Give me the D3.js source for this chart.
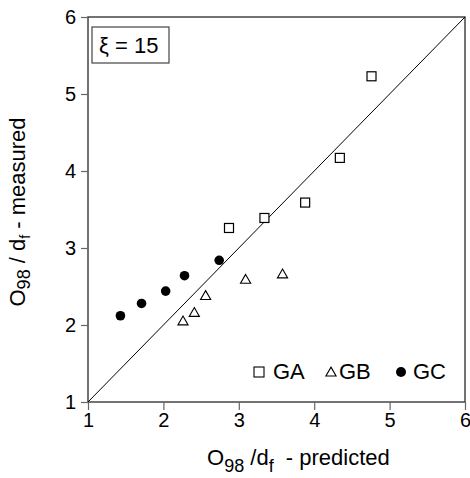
<!DOCTYPE html>
<html>
<head>
<meta charset="utf-8">
<title>O98/df</title>
<script src="https://d3js.org/d3.v7.min.js"></script>
<style>
  body { margin: 0; background: #fff; }
  text { font-family: "Liberation Sans", Arial, sans-serif; fill: #000; }
</style>
</head>
<body>
<div id="chart"></div>
<script>
// values
var gaX = [4.76, 4.34, 3.88, 3.34, 2.87],
    gaY = [5.23, 4.17, 3.59, 3.39, 3.26];
var gbX = [2.26, 2.41, 2.56, 3.09, 3.58],
    gbY = [2.04, 2.15, 2.37, 2.58, 2.65];
var gcX = [1.43, 1.71, 2.03, 2.28, 2.74],
    gcY = [2.12, 2.28, 2.44, 2.64, 2.84];
var ticks = [1, 2, 3, 4, 5, 6];
var diag = [1, 6];

var W = 470, H = 478,
    m = {left: 88, right: 465, top: 17, bottom: 402};

var x = d3.scaleLinear().domain([1, 6]).range([m.left, m.right]),
    y = d3.scaleLinear().domain([1, 6]).range([m.bottom, m.top]);

var svg = d3.select("#chart").append("svg")
    .attr("width", W).attr("height", H);

// frame
svg.append("rect")
    .attr("x", m.left).attr("y", m.top)
    .attr("width", m.right - m.left).attr("height", m.bottom - m.top)
    .attr("fill", "none").attr("stroke", "#444").attr("stroke-width", 1.5);

// axes
var axX = svg.append("g")
    .attr("transform", "translate(0," + m.bottom + ")")
    .call(d3.axisBottom(x).tickValues(ticks).tickFormat(d3.format("d")).tickSize(8).tickPadding(3));
var axY = svg.append("g")
    .attr("transform", "translate(" + m.left + ",0)")
    .call(d3.axisLeft(y).tickValues(ticks).tickFormat(d3.format("d")).tickSize(7).tickPadding(5));
[axX, axY].forEach(function(g) {
  g.select(".domain").remove();
  g.selectAll("line").attr("stroke", "#666").attr("stroke-width", 1.2);
  g.selectAll("text").attr("font-size", 20).attr("fill", "#000")
    .style("font-family", "'Liberation Sans', Arial, sans-serif");
});

// 1:1 line
svg.append("line")
    .attr("x1", x(diag[0])).attr("y1", y(diag[0]))
    .attr("x2", x(diag[1])).attr("y2", y(diag[1]))
    .attr("stroke", "#000").attr("stroke-width", 1);

// GA squares
svg.append("g").selectAll("rect")
    .data(d3.zip(gaX, gaY)).enter().append("rect")
    .attr("x", d => x(d[0]) - 4.5).attr("y", d => y(d[1]) - 4.5)
    .attr("width", 9).attr("height", 9)
    .attr("fill", "#fff").attr("stroke", "#000").attr("stroke-width", 1.2);

// GB triangles
var tri = d3.symbol().type(d3.symbolTriangle).size(45);
svg.append("g").selectAll("path")
    .data(d3.zip(gbX, gbY)).enter().append("path")
    .attr("d", tri)
    .attr("transform", d => "translate(" + x(d[0]) + "," + y(d[1]) + ")")
    .attr("fill", "#fff").attr("stroke", "#000").attr("stroke-width", 1.1);

// GC circles
svg.append("g").selectAll("circle")
    .data(d3.zip(gcX, gcY)).enter().append("circle")
    .attr("cx", d => x(d[0])).attr("cy", d => y(d[1]))
    .attr("r", 4.8).attr("fill", "#000");

// xi box
svg.append("rect")
    .attr("x", 92).attr("y", 27).attr("width", 77).attr("height", 36)
    .attr("fill", "#fff").attr("stroke", "#444").attr("stroke-width", 1.2);
svg.append("text").attr("x", 99).attr("y", 53)
    .attr("font-size", 22).text("\u03be = 15");

// legend
var lg = svg.append("g");
lg.append("rect").attr("x", 254).attr("y", 367).attr("width", 10).attr("height", 10)
    .attr("fill", "#fff").attr("stroke", "#000").attr("stroke-width", 1.1);
lg.append("text").attr("x", 273).attr("y", 379).attr("font-size", 22).text("GA");
lg.append("path").attr("d", tri).attr("transform", "translate(331,373)")
    .attr("fill", "#fff").attr("stroke", "#000").attr("stroke-width", 1.1);
lg.append("text").attr("x", 339).attr("y", 379).attr("font-size", 22).text("GB");
lg.append("circle").attr("cx", 401).attr("cy", 372).attr("r", 5).attr("fill", "#000");
lg.append("text").attr("x", 413).attr("y", 379).attr("font-size", 22).text("GC");

// axis titles
var xt = svg.append("text").attr("x", 207).attr("y", 465).attr("font-size", 22)
    .attr("xml:space", "preserve");
xt.append("tspan").text("O");
xt.append("tspan").attr("dy", 7).attr("font-size", 18).text("98");
xt.append("tspan").attr("dy", -7).text(" /d");
xt.append("tspan").attr("dy", 7).attr("font-size", 18).text("f");
xt.append("tspan").attr("dy", -7).text("  - predicted");

var yt = svg.append("text")
    .attr("transform", "translate(25,212) rotate(-90)")
    .attr("text-anchor", "middle").attr("font-size", 22);
yt.append("tspan").text("O");
yt.append("tspan").attr("dy", 5).attr("font-size", 18).text("98");
yt.append("tspan").attr("dy", -5).text(" / d");
yt.append("tspan").attr("dy", 5).attr("font-size", 14).text("f");
yt.append("tspan").attr("dy", -5).text(" - measured");
</script>
</body>
</html>
